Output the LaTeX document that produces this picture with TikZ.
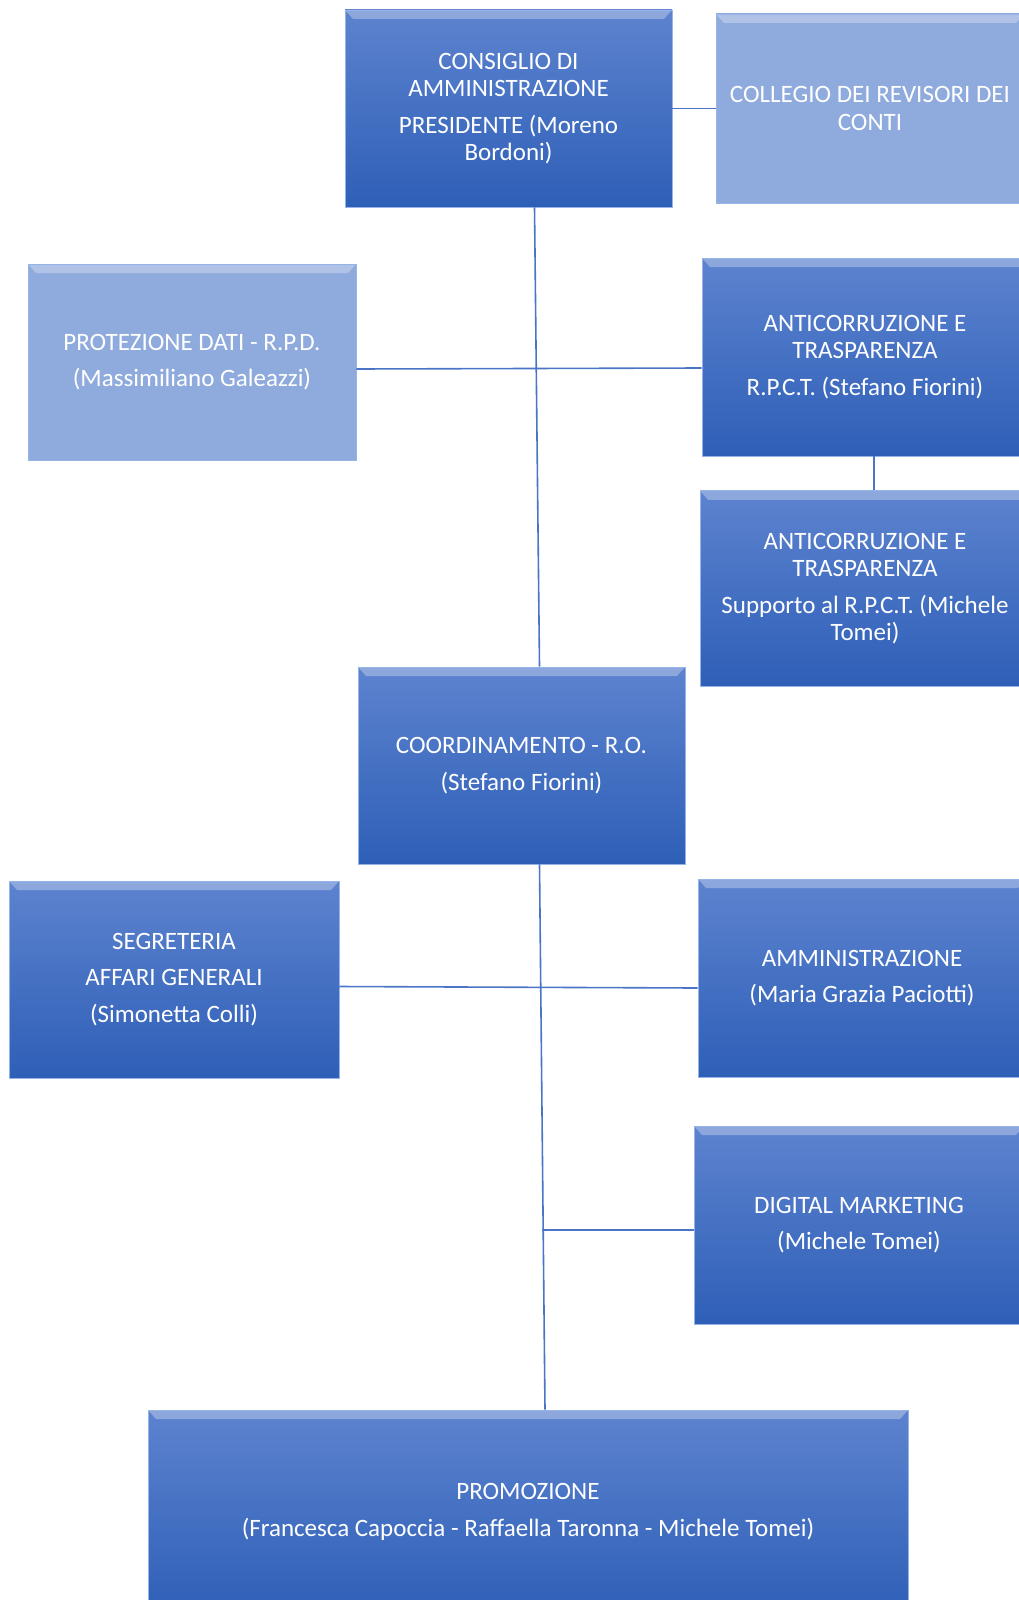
\documentclass[tikz,border=0pt]{standalone}
\usepackage{fontspec}
\setmainfont{Carlito}
\usetikzlibrary{positioning, calc}

\definecolor{unittop}{RGB}{93,131,207}
\definecolor{unitbot}{RGB}{46,95,183}
\definecolor{lightunit}{RGB}{143,170,220}
\definecolor{edgeline}{RGB}{74,116,198}
\definecolor{rim}{RGB}{150,180,232}

\begin{document}
\begin{tikzpicture}[
    x=1pt, y=1pt,
    unit/.style={
      draw=rim, line width=0.8pt, minimum width=327pt, minimum height=197pt,
      inner sep=6pt, align=center, text=white,
      font=\fontsize{25}{27.5}\selectfont,
      top color=unittop, bottom color=unitbot,
      path picture={
        \fill[white, opacity=0.3] (path picture bounding box.north west)
          -- (path picture bounding box.north east)
          -- ([xshift=-8pt,yshift=-9pt]path picture bounding box.north east)
          -- ([xshift=8pt,yshift=-9pt]path picture bounding box.north west) -- cycle;
      }
    },
    control/.style={unit, top color=lightunit, bottom color=lightunit},
    link/.style={draw=edgeline, line width=1.6pt}
]

\clip (0,0) rectangle (1019,-1600);

% Vertice
\node[unit] (cda) at (508.5,-108.5) {CONSIGLIO DI\\AMMINISTRAZIONE\\[9pt]PRESIDENTE (Moreno\\Bordoni)};
\node[control, minimum width=308pt, minimum height=189pt] (rev) at (870,-108.5) {COLLEGIO DEI REVISORI DEI\\CONTI};

% Staff
\node[control, minimum width=328pt, minimum height=196pt] (rpd) at (192,-362) {PROTEZIONE DATI - R.P.D.\\[9pt](Massimiliano Galeazzi)};
\node[unit, minimum width=326pt, minimum height=198pt] (rpct) at (865,-357) {ANTICORRUZIONE E\\TRASPARENZA\\[9pt]R.P.C.T. (Stefano Fiorini)};
\node[unit, minimum width=330pt, minimum height=196pt, below=34pt of rpct] (srpct) {ANTICORRUZIONE E\\TRASPARENZA\\[9pt]Supporto al R.P.C.T. (Michele\\Tomei)};

% Coordinamento
\node[unit] (ro) at (521.5,-765.5) {COORDINAMENTO - R.O.\\[9pt](Stefano Fiorini)};

% Uffici
\node[unit, minimum width=330pt] (segr) at (174,-979.5) {SEGRETERIA\\[9pt]AFFARI GENERALI\\[9pt](Simonetta Colli)};
\node[unit, minimum width=328pt, minimum height=198pt] (amm) at (862,-978) {AMMINISTRAZIONE\\[9pt](Maria Grazia Paciotti)};
\node[unit, minimum width=330pt, minimum height=198pt] (dm) at (859,-1225) {DIGITAL MARKETING\\[9pt](Michele Tomei)};
\node[unit, minimum width=760pt, minimum height=204pt] (promo) at (528,-1512) {PROMOZIONE\\[9pt](Francesca Capoccia - Raffaella Taronna - Michele Tomei)};

% Collegamenti
\coordinate (spine) at (542,-1230);
\draw[link] (cda.east) -- (rev.west);
\draw[link] ([xshift=26pt]cda.south) -- ([xshift=18pt]ro.north);
\draw[link] ([yshift=-7pt]rpd.east) -- ([yshift=-11pt]rpct.west);
\draw[link] ([xshift=9pt]rpct.south) -- ([xshift=9pt]srpct.north);
\draw[link] ([xshift=18pt]ro.south) -- ([xshift=17pt]promo.north);
\draw[link] ([yshift=-7pt]segr.east) -- ([yshift=-10pt]amm.west);
\draw[link] ([yshift=-5pt]dm.west) -- ([yshift=-5pt]dm.west -| spine);

\end{tikzpicture}
\end{document}
